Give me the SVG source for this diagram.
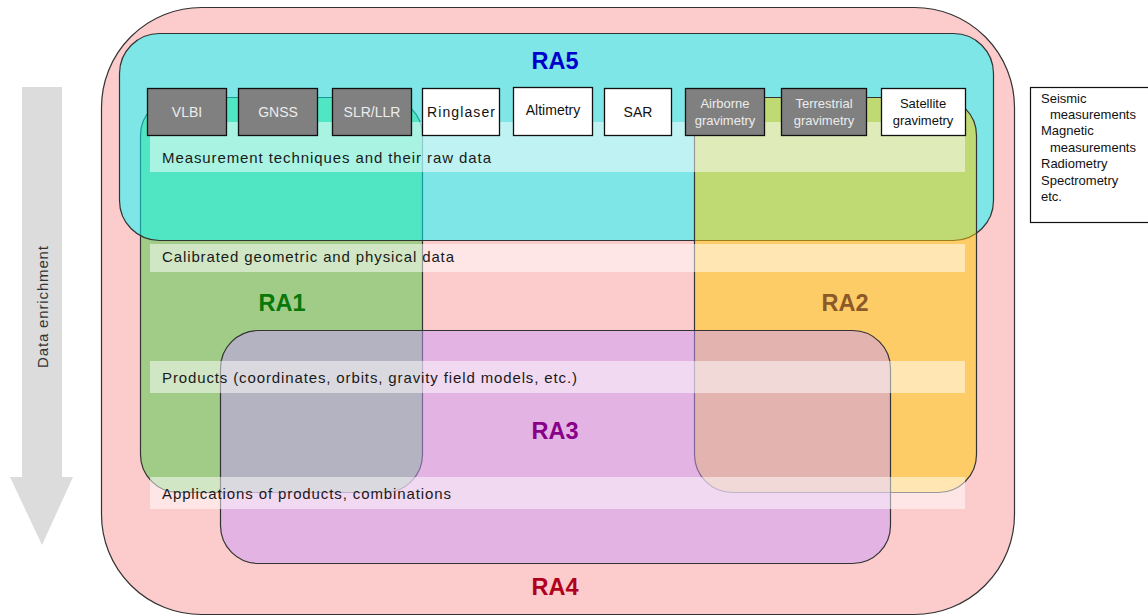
<svg xmlns="http://www.w3.org/2000/svg" width="1148" height="616" viewBox="0 0 1148 616">
<style>
  .area { stroke: #333; stroke-width: 1.2; }
  .band { fill: #ffffff; fill-opacity: 0.5; }
  .btext { font-family: "Liberation Sans", Arial, sans-serif; font-size: 15px; fill: #1a1a1a; }
  .box-dark rect { fill: #808080; stroke: #111; stroke-width: 1.3; }
  .box-light rect { fill: #ffffff; stroke: #111; stroke-width: 1.3; }
  .box-dark text { font-family: "Liberation Sans", Arial, sans-serif; font-size: 14px; fill: #ececec; text-anchor: middle; }
  .box-light text { font-family: "Liberation Sans", Arial, sans-serif; font-size: 14px; fill: #111; text-anchor: middle; }
  .small text, text.small { font-size: 13px; }
  .ralabel { font-family: "Liberation Sans", Arial, sans-serif; font-weight: bold; font-size: 23.5px; text-anchor: middle; }
  .side { font-family: "Liberation Sans", Arial, sans-serif; font-size: 13px; fill: #111; }
</style>

<rect width="1148" height="616" fill="#ffffff"/>

<!-- Data enrichment arrow -->
<g id="data-enrichment">
  <polygon points="22,87 62,87 62,477 73,477 42,545 10,477 22,477" fill="#dcdcdc"/>
  <text transform="translate(48,307) rotate(-90)" text-anchor="middle" font-family="Liberation Sans, Arial, sans-serif" font-size="15" fill="#333" textLength="122" lengthAdjust="spacing">Data enrichment</text>
</g>

<!-- RA4 outer area -->
<g id="RA4">
  <rect class="area" x="101.5" y="7.5" width="913" height="607" rx="100" ry="100" fill="#fccccc" stroke="#555"/>
</g>

<!-- RA1 -->
<g id="RA1">
  <rect class="area" x="140.5" y="97.5" width="282" height="395" rx="38" ry="38" fill="#a0cc88"/>
</g>

<!-- RA5 -->
<g id="RA5">
  <rect class="area" x="119.5" y="33.5" width="874" height="207" rx="40" ry="40" fill="#00ffff" fill-opacity="0.5"/>
</g>

<!-- RA2 -->
<g id="RA2">
  <rect class="area" x="694.5" y="97.5" width="282" height="395" rx="38" ry="38" fill="#ffcc00" fill-opacity="0.5"/>
</g>

<!-- RA3 -->
<g id="RA3">
  <rect class="area" x="220.5" y="330.5" width="670" height="233" rx="38" ry="38" fill="#c89afa" fill-opacity="0.5"/>
</g>

<!-- Data level bands -->
<g id="bands">
  <rect class="band" x="150" y="122" width="815" height="50"/>
  <rect class="band" x="150" y="244" width="815" height="28"/>
  <rect class="band" x="150" y="361" width="815" height="32"/>
  <rect class="band" x="150" y="477" width="815" height="32"/>
  <text class="btext" x="162" y="163" textLength="329" lengthAdjust="spacing">Measurement techniques and their raw data</text>
  <text class="btext" x="162" y="262" textLength="292" lengthAdjust="spacing">Calibrated geometric and physical data</text>
  <text class="btext" x="162" y="383" textLength="415" lengthAdjust="spacing">Products (coordinates, orbits, gravity field models, etc.)</text>
  <text class="btext" x="162" y="499" textLength="289" lengthAdjust="spacing">Applications of products, combinations</text>
</g>

<!-- Measurement technique boxes -->
<g id="VLBI" class="box-dark">
  <rect x="147.5" y="88.5" width="79" height="47"/>
  <text x="187" y="117">VLBI</text>
</g>
<g id="GNSS" class="box-dark">
  <rect x="238.5" y="88.5" width="79" height="47"/>
  <text x="278" y="117">GNSS</text>
</g>
<g id="SLR-LLR" class="box-dark">
  <rect x="332.5" y="88.5" width="79" height="47"/>
  <text x="372" y="117">SLR/LLR</text>
</g>
<g id="Ringlaser" class="box-light">
  <rect x="422.5" y="88.5" width="77" height="47"/>
  <text x="461" y="117" textLength="68" lengthAdjust="spacing">Ringlaser</text>
</g>
<g id="Altimetry" class="box-light">
  <rect x="513.5" y="87.5" width="79" height="48"/>
  <text x="553" y="115">Altimetry</text>
</g>
<g id="SAR" class="box-light">
  <rect x="604.5" y="88.5" width="67" height="47"/>
  <text x="638" y="117">SAR</text>
</g>
<g id="Airborne-gravimetry" class="box-dark small">
  <rect x="685.5" y="88.5" width="79" height="47"/>
  <text x="725" y="108">Airborne</text>
  <text x="725" y="125">gravimetry</text>
</g>
<g id="Terrestrial-gravimetry" class="box-dark small">
  <rect x="781.5" y="88.5" width="85" height="47"/>
  <text x="824" y="108">Terrestrial</text>
  <text x="824" y="125">gravimetry</text>
</g>
<g id="Satellite-gravimetry" class="box-light small">
  <rect x="881.5" y="88.5" width="84" height="47"/>
  <text x="923" y="108">Satellite</text>
  <text x="923" y="125">gravimetry</text>
</g>

<!-- Other measurements box -->
<g id="other-measurements">
  <rect x="1030.5" y="87.5" width="130" height="135" fill="#ffffff" stroke="#111" stroke-width="1.2"/>
  <text class="side" x="1041" y="103">Seismic</text>
  <text class="side" x="1050" y="119">measurements</text>
  <text class="side" x="1041" y="135">Magnetic</text>
  <text class="side" x="1050" y="152">measurements</text>
  <text class="side" x="1041" y="168">Radiometry</text>
  <text class="side" x="1041" y="185">Spectrometry</text>
  <text class="side" x="1041" y="201">etc.</text>
</g>

<!-- Area labels -->
<g id="labels">
  <text class="ralabel" x="555" y="69" fill="#0000cc">RA5</text>
  <text class="ralabel" x="282" y="311" fill="#087808">RA1</text>
  <text class="ralabel" x="845" y="311" fill="#8c5a28">RA2</text>
  <text class="ralabel" x="555" y="439" fill="#880088">RA3</text>
  <text class="ralabel" x="555" y="595" fill="#b0001e">RA4</text>
</g>
</svg>
